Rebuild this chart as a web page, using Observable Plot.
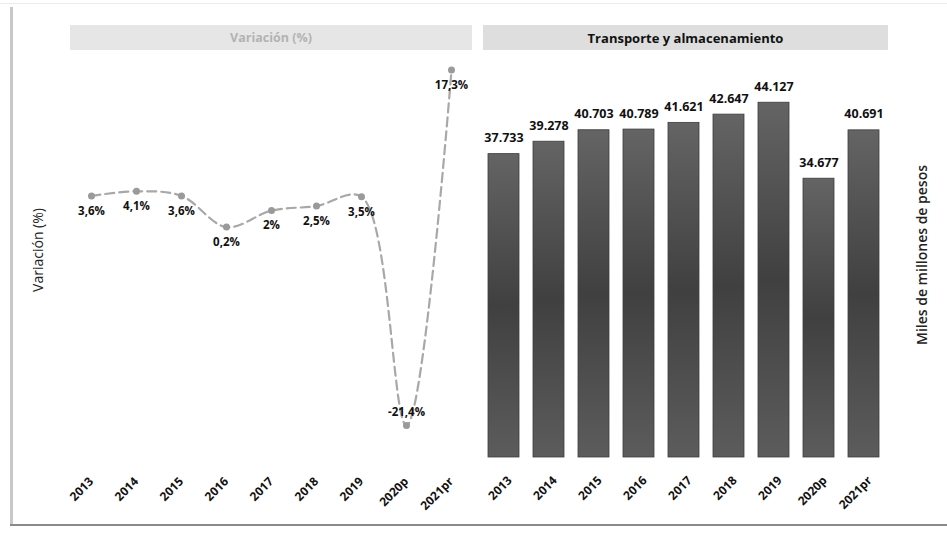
<!DOCTYPE html>
<html>
<head>
<meta charset="utf-8">
<script src="https://cdn.jsdelivr.net/npm/d3@7"></script>
<script src="https://cdn.jsdelivr.net/npm/@observablehq/plot@0.6"></script>
<style>
  html, body { margin: 0; padding: 0; background: #fff; }
  #wrap { position: relative; width: 947px; height: 535px; overflow: hidden; font-family: "Open Sans", sans-serif; }
  .abs { position: absolute; }
  .band { position: absolute; top: 25px; height: 25px; display: flex; align-items: center; justify-content: center; font-weight: 700; }
  .ytitle { position: absolute; white-space: nowrap; transform: translate(-50%, -50%) rotate(-90deg); color: #222; }
</style>
</head>
<body>
<div id="wrap">
  <div class="abs" style="left:10px;top:7px;width:3px;height:519px;background:#c8c8c8;"></div>
  <div class="abs" style="left:0;top:3px;width:947px;height:1px;background:#ececec;"></div>
  <div class="abs" style="left:10px;top:524px;width:937px;height:2px;background:#8a8a8a;"></div>
  <div class="band" style="left:70px;width:402px;background:#e6e6e6;color:#b3b3b3;font-size:12.5px;">Variación (%)</div>
  <div class="band" style="left:483px;width:405px;background:#dedede;color:#111;font-size:13px;">Transporte y almacenamiento</div>
  <div class="ytitle" style="left:37px;top:250px;font-size:14px;">Variación (%)</div>
  <div class="ytitle" style="left:921px;top:255px;font-size:14px;font-weight:600;">Miles de millones de pesos</div>
  <div id="left" class="abs" style="left:0;top:0;"></div>
  <div id="right" class="abs" style="left:470px;top:0;"></div>
</div>
<script>
const years = ["2013", "2014", "2015", "2016", "2017", "2018", "2019", "2020p", "2021pr"];
const variacion = [3.6, 4.1, 3.6, 0.2, 2.0, 2.5, 3.5, -21.4, 17.3];
const variacionLabels = ["3,6%", "4,1%", "3,6%", "0,2%", "2%", "2,5%", "3,5%", "-21,4%", "17,3%"];
const valores = [37.733, 39.278, 40.703, 40.789, 41.621, 42.647, 44.127, 34.677, 40.691];
const valorLabels = ["37.733", "39.278", "40.703", "40.789", "41.621", "42.647", "44.127", "34.677", "40.691"];

const lineData = years.map((y, i) => ({year: y, v: variacion[i], label: variacionLabels[i]}));
const barData = years.map((y, i) => ({year: y, v: valores[i], label: valorLabels[i]}));

const font = {fontFamily: "'Open Sans', sans-serif", background: "transparent", overflow: "visible"};

const left = Plot.plot({
  width: 474,
  height: 535,
  marginLeft: 68.5,
  marginRight: 0.5,
  marginTop: 54,
  marginBottom: 77,
  style: font,
  x: {type: "point", domain: years, padding: 0.5},
  y: {domain: [-25, 19], axis: null},
  marks: [
    Plot.line(lineData, {x: "year", y: "v", stroke: "#a8a8a8", strokeWidth: 2.2, strokeDasharray: "9,5", curve: "catmull-rom"}),
    Plot.dot(lineData, {x: "year", y: "v", r: 3.5, fill: "#9a9a9a", stroke: "none"}),
    Plot.text(lineData.filter(d => d.v > -10), {x: "year", y: "v", text: "label", dy: 15, fontSize: 11.5, fontWeight: 700, fill: "#111"}),
    Plot.text(lineData.filter(d => d.v <= -10), {x: "year", y: "v", text: "label", dy: -13, fontSize: 11.5, fontWeight: 700, fill: "#111"}),
    Plot.axisX({tickRotate: -45, tickSize: 0, tickPadding: 21, fontSize: 12, fontWeight: 700, fill: "#111", label: null})
  ]
});
document.getElementById("left").appendChild(left);

const right = Plot.plot({
  width: 477,
  height: 535,
  marginLeft: 3.4,
  marginRight: 52.4,
  marginTop: 55,
  marginBottom: 78,
  style: font,
  x: {type: "band", domain: years, padding: 0.3},
  y: {domain: [0, 50], axis: null},
  marks: [
    Plot.barY(barData, {x: "year", y: "v", fill: "url(#barGrad)", stroke: "#3c3c3c", strokeWidth: 0.8}),
    Plot.text(barData, {x: "year", y: "v", text: "label", dy: -16, fontSize: 12.5, fontWeight: 700, fill: "#111"}),
    Plot.axisX({tickRotate: -45, tickSize: 0, tickPadding: 21, fontSize: 12, fontWeight: 700, fill: "#111", dx: 6, label: null})
  ]
});
const ns = "http://www.w3.org/2000/svg";
const defs = document.createElementNS(ns, "defs");
const grad = document.createElementNS(ns, "linearGradient");
grad.setAttribute("id", "barGrad");
grad.setAttribute("x1", "0"); grad.setAttribute("y1", "0");
grad.setAttribute("x2", "0"); grad.setAttribute("y2", "1");
[["0%", "#646464"], ["50%", "#404040"], ["100%", "#5c5c5c"]].forEach(([o, c]) => {
  const s = document.createElementNS(ns, "stop");
  s.setAttribute("offset", o); s.setAttribute("stop-color", c);
  grad.appendChild(s);
});
defs.appendChild(grad);
right.insertBefore(defs, right.firstChild);
document.getElementById("right").appendChild(right);
</script>
</body>
</html>
